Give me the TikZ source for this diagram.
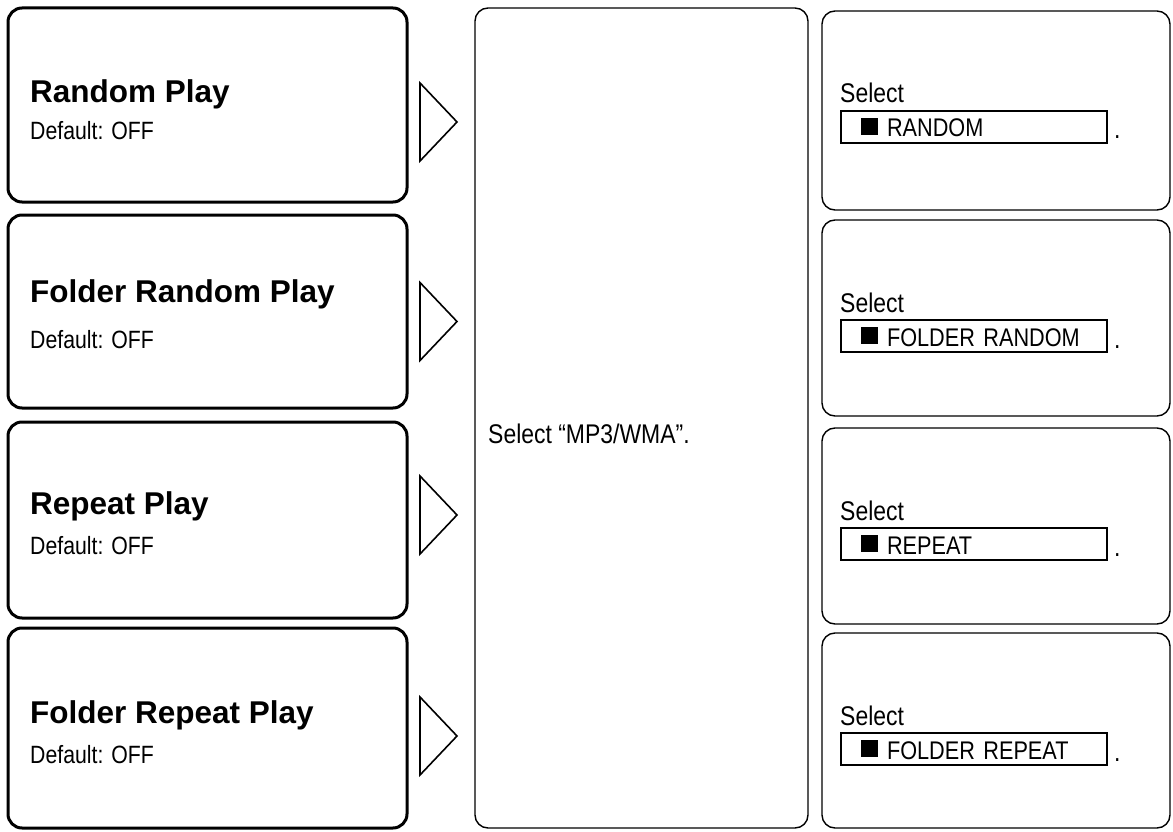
\documentclass[tikz,border=0pt]{standalone}
\usepackage{fontspec}
\setmainfont{Liberation Sans}
\newfontfamily\narrowsans{Liberation Sans}[FakeStretch=0.85]
\usetikzlibrary{calc}

\begin{document}
\begin{tikzpicture}[x=1pt,y=-1pt,
  modebox/.style={draw,line width=3pt,rounded corners=14pt,inner sep=0pt,outer sep=0pt,minimum width=399},
  stepbox/.style={draw,line width=1.4pt,rounded corners=13pt,inner sep=0pt,outer sep=0pt},
  optbox/.style={draw,line width=1.4pt,anchor=north west,outer sep=0pt,minimum height=32,
    inner xsep=20pt,inner ysep=3pt,text width=226pt,align=left,text height=23pt,text depth=3pt,
    font=\narrowsans\fontsize{25.5}{30}\selectfont},
  titletext/.style={anchor=base west,inner sep=0pt,font=\fontsize{31.5}{36}\selectfont\bfseries},
  deftext/.style={anchor=base west,inner sep=0pt,font=\narrowsans\fontsize{25}{28}\selectfont},
  smalltext/.style={anchor=base west,inner sep=0pt,font=\narrowsans\fontsize{27}{30}\selectfont},
  pointer/.style={draw,line width=1.6pt,line join=miter}]
\useasboundingbox (0,0) rectangle (1173,832);

% left column: play modes
\node[modebox,minimum height=194] (random) at (207.5,105) {};
\node[modebox,minimum height=193] (frandom) at (207.5,311.5) {};
\node[modebox,minimum height=196] (repeat) at (207.5,520) {};
\node[modebox,minimum height=200] (frepeat) at (207.5,728) {};
\foreach \b/\t/\d/\txt in {random/95/132/Random Play, frandom/87/133/Folder Random Play,
    repeat/92/132/Repeat Play, frepeat/95/135/Folder Repeat Play} {
  \node[titletext] (\b-t) at ($(\b.north west)+(22,\t)$) {\txt};
  \node[deftext] (\b-d) at ($(\b.north west)+(22,\d)$) {Default: OFF};
}
\foreach \b/\dy in {random/17, frandom/10, repeat/-5, frepeat/8}
  \draw[pointer] ($(\b.east)+(13,\dy-39)$) -- ++(37,39) -- ++(-37,39) -- cycle;

% middle column
\node[stepbox,minimum width=333,minimum height=820] (format) at (641.5,418) {};
\node[smalltext] (format-t) at ($(format.north west)+(13,435)$) {Select “MP3/WMA”.};

% right column: settings
\node[stepbox,minimum width=348,minimum height=199] (sel1) at (996,110.5) {};
\node[stepbox,minimum width=348,minimum height=196] (sel2) at (996,318) {};
\node[stepbox,minimum width=348,minimum height=196] (sel3) at (996,526) {};
\node[stepbox,minimum width=348,minimum height=195] (sel4) at (996,730.5) {};
\foreach \s/\opt in {sel1/RANDOM, sel2/FOLDER RANDOM, sel3/REPEAT, sel4/FOLDER REPEAT} {
  \node[optbox,minimum width=266] (\s-o) at ($(\s.north west)+(19,100)$) {\mbox{\rule[2pt]{17pt}{17pt}\hspace{9pt}\opt}};
  \node[smalltext] (\s-t) at ($(\s-o.north west)+(-1,-8)$) {Select};
  \node[smalltext] (\s-p) at ($(\s-o.south east)+(7,-4)$) {.};
}
\end{tikzpicture}
\end{document}
